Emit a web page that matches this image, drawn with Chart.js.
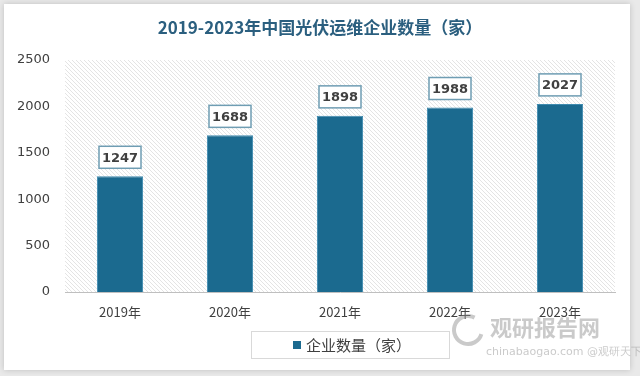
<!DOCTYPE html>
<html>
<head>
<meta charset="utf-8">
<script src="https://cdn.jsdelivr.net/npm/chart.js@4/dist/chart.umd.min.js"></script>
<style>
  html,body{margin:0;padding:0;background:#e9e9e9;}
  #wrap{width:640px;height:376px;position:relative;}
</style>
</head>
<body>
<div id="wrap"><canvas id="c" width="640" height="376"></canvas></div>
<script>
/* === DATA === */
const years = ["2019年","2020年","2021年","2022年","2023年"];
const companies = [1247, 1688, 1898, 1988, 2027];
const yTicks = [0, 500, 1000, 1500, 2000, 2500];
const seriesName = "企业数量（家）";
const chartTitle = "2019-2023年中国光伏运维企业数量（家）";

const barColor = "#1b6a8f";
const cjk = "'Noto Sans CJK SC', 'Noto Sans', sans-serif";

/* hatched plot background */
function makeHatch(){
  const p = document.createElement("canvas");
  p.width = 4; p.height = 4;
  const g = p.getContext("2d");
  g.fillStyle = "#ffffff"; g.fillRect(0,0,4,4);
  g.strokeStyle = "#e4e4e4"; g.lineWidth = 1;
  g.beginPath(); g.moveTo(0,0); g.lineTo(4,4); g.stroke();
  g.beginPath(); g.moveTo(-1,3); g.lineTo(1,5); g.stroke();
  g.beginPath(); g.moveTo(3,-1); g.lineTo(5,1); g.stroke();
  return p;
}

/* === PLUGIN: card, title, hatch, labels, legend === */
const decor = {
  id: "decor",
  beforeDraw(chart){
    const ctx = chart.ctx, a = chart.chartArea;
    ctx.save();
    ctx.fillStyle = "#e9e9e9"; ctx.fillRect(0,0,640,376);
    ctx.shadowColor = "rgba(0,0,0,0.18)"; ctx.shadowBlur = 6;
    ctx.fillStyle = "#ffffff"; ctx.fillRect(4,4,626,366);
    ctx.shadowBlur = 0; ctx.shadowColor = "transparent";
    ctx.fillStyle = ctx.createPattern(makeHatch(), "repeat");
    ctx.fillRect(a.left, a.top, a.right - a.left, a.bottom - a.top);
    ctx.fillStyle = "#2b5f7f";
    ctx.font = "bold 17px " + cjk;
    ctx.textAlign = "center"; ctx.textBaseline = "middle";
    ctx.fillText(chartTitle, 320, 28);
    ctx.restore();
  },
  afterDatasetsDraw(chart){
    const ctx = chart.ctx;
    const meta = chart.getDatasetMeta(0);
    ctx.save();
    meta.data.forEach((bar, i) => {
      const w = 42, h = 22;
      const x = bar.x - w/2, y = bar.y - 8 - h;
      ctx.fillStyle = "#ffffff";
      ctx.fillRect(x, y, w, h);
      ctx.strokeStyle = "#6f9db3"; ctx.lineWidth = 1.5;
      ctx.strokeRect(x, y, w, h);
      ctx.fillStyle = "#404040";
      ctx.font = "bold 13px 'DejaVu Sans', sans-serif";
      ctx.textAlign = "center"; ctx.textBaseline = "middle";
      ctx.fillText(String(companies[i]), bar.x, y + h/2 + 1);
    });
    ctx.restore();
  },
  afterDraw(chart){
    const ctx = chart.ctx;
    ctx.save();
    // legend box
    ctx.fillStyle = "#ffffff";
    ctx.fillRect(251, 331, 198, 27);
    ctx.strokeStyle = "#d9d9d9"; ctx.lineWidth = 1;
    ctx.strokeRect(251.5, 331.5, 198, 27);
    ctx.fillStyle = barColor;
    ctx.fillRect(293, 341, 8, 8);
    ctx.fillStyle = "#404040";
    ctx.font = "15px " + cjk;
    ctx.textAlign = "left"; ctx.textBaseline = "middle";
    ctx.fillText(seriesName, 306, 345);
    // watermark
    ctx.globalAlpha = 0.45;
    ctx.fillStyle = "#8a8a8a";
    ctx.font = "bold 22px " + cjk;
    ctx.fillText("观研报告网", 490, 328);
    ctx.font = "11px 'DejaVu Sans', sans-serif";
    ctx.fillText("chinabaogao.com @观研天下", 486, 352);
    ctx.strokeStyle = "#8a8a8a"; ctx.lineWidth = 4;
    ctx.beginPath(); ctx.arc(468, 330, 14, 0.3, 5.2); ctx.stroke();
    ctx.restore();
  }
};

const ctx = document.getElementById("c").getContext("2d");
new Chart(ctx, {
  type: "bar",
  data: {
    labels: years,
    datasets: [{
      label: seriesName,
      data: companies,
      backgroundColor: barColor,
      borderColor: "#3f8bb0",
      borderWidth: {left:1, right:1, top:1, bottom:0},
      categoryPercentage: 1,
      barPercentage: 0.42
    }]
  },
  options: {
    responsive: false,
    animation: false,
    layout: { padding: { left: 6, right: 25, top: 60, bottom: 0 } },
    plugins: { legend: { display: false }, title: { display: false }, tooltip: { enabled: false } },
    scales: {
      x: {
        grid: { display: false, drawTicks: false },
        border: { display: true, color: "#bfbfbf", width: 1 },
        ticks: { color: "#404040", padding: 12, font: { size: 13, family: cjk } },
        afterFit(s){ s.height = 84; }
      },
      y: {
        min: 0, max: 2500,
        afterBuildTicks(s){ s.ticks = yTicks.map(v => ({ value: v })); },
        grid: { display: false, drawTicks: false },
        border: { display: false },
        ticks: { color: "#404040", padding: 15, font: { size: 13, family: "'DejaVu Sans', sans-serif" },
                 callback: v => String(v) },
        afterFit(s){ s.width = 59; }
      }
    }
  },
  plugins: [decor]
});
</script>
</body>
</html>
